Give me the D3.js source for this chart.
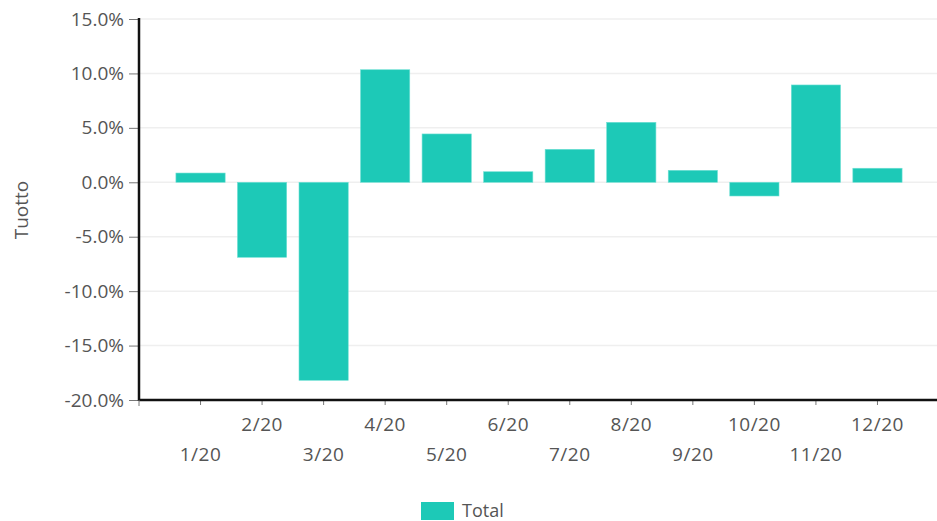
<!DOCTYPE html>
<html>
<head>
<meta charset="utf-8">
<script src="https://cdn.jsdelivr.net/npm/d3@7"></script>
<style>
  html, body { margin: 0; padding: 0; background: #fff; }
  svg { display: block; }
  text { font-family: "Open Sans", "DejaVu Sans", sans-serif; fill: #555; }
</style>
</head>
<body>
<svg id="chart" width="937" height="521"></svg>
<script>
const categories = ["1/20","2/20","3/20","4/20","5/20","6/20","7/20","8/20","9/20","10/20","11/20","12/20"];
const totalValues = [0.0085, -0.0689, -0.1819, 0.1034, 0.0444, 0.0097, 0.0303, 0.0551, 0.0110, -0.0126, 0.0894, 0.0129];
const yTicks = [-0.20, -0.15, -0.10, -0.05, 0.0, 0.05, 0.10, 0.15];
const seriesName = "Total";
const yTitle = "Tuotto";

(function () {
const svg = d3.select("#chart");
const mLeft = 139, mRight = 939, mTop = 19, mBottom = 400;
const color = "#1dc9b7";

const x = d3.scaleBand().domain(categories).range([mLeft, mRight]).paddingInner(0.2).paddingOuter(0.6);
const y = d3.scaleLinear().domain([-0.20, 0.15]).range([mBottom, mTop]);

// gridlines
svg.append("g").selectAll("line").data(yTicks).join("line")
  .attr("x1", mLeft).attr("x2", 937)
  .attr("y1", d => y(d)).attr("y2", d => y(d))
  .attr("stroke", "#efefef").attr("stroke-width", 1.5);

// bars
svg.append("g").selectAll("rect").data(totalValues).join("rect")
  .attr("x", (d, i) => x(categories[i]))
  .attr("width", x.bandwidth())
  .attr("y", d => y(Math.max(0, d)))
  .attr("height", d => Math.abs(y(d) - y(0)))
  .attr("fill", color)
  .attr("stroke", "#6fe0d4").attr("stroke-width", 0.6);

// y axis
const fmt = d3.format(".1%");
const yAxis = d3.axisLeft(y).tickValues(yTicks).tickFormat(d => fmt(d).replace("\u2212", "-")).tickSize(10).tickPadding(5);
const gy = svg.append("g").attr("transform", `translate(${mLeft},0)`).call(yAxis);
gy.select(".domain").remove();
gy.selectAll(".tick line").attr("stroke", "#777").attr("stroke-width", 1);
gy.selectAll(".tick text").attr("font-size", 19).attr("fill", "#555")
  .style("font-family", '"Open Sans", sans-serif');
svg.append("line").attr("x1", mLeft).attr("x2", mLeft).attr("y1", mTop - 1).attr("y2", mBottom + 1)
  .attr("stroke", "#111").attr("stroke-width", 2.5);

// x axis
const xAxis = d3.axisBottom(x).tickSize(5).tickPadding(0);
const gx = svg.append("g").attr("transform", `translate(0,${mBottom})`).call(xAxis);
gx.select(".domain").remove();
gx.selectAll(".tick line").attr("stroke", "#777");
gx.selectAll(".tick text").attr("font-size", 19).attr("fill", "#555")
  .style("font-family", '"Open Sans", sans-serif')
  .style("letter-spacing", "0.5px")
  .attr("dy", null)
  .attr("y", (d, i) => i % 2 === 1 ? 31 : 61);
svg.append("line").attr("x1", mLeft).attr("x2", 937).attr("y1", mBottom).attr("y2", mBottom)
  .attr("stroke", "#111").attr("stroke-width", 2.5);
svg.append("line").attr("x1", mLeft).attr("x2", mLeft).attr("y1", mBottom).attr("y2", mBottom + 6)
  .attr("stroke", "#777");

// y title
svg.append("text").attr("transform", `translate(28,210) rotate(-90)`)
  .attr("text-anchor", "middle").attr("font-size", 19).attr("fill", "#555").text(yTitle);

// legend
svg.append("rect").attr("x", 421).attr("y", 502).attr("width", 33).attr("height", 18).attr("fill", color);
svg.append("text").attr("x", 462).attr("y", 517).attr("font-size", 18).attr("fill", "#555").text(seriesName);
})();
</script>
</body>
</html>
